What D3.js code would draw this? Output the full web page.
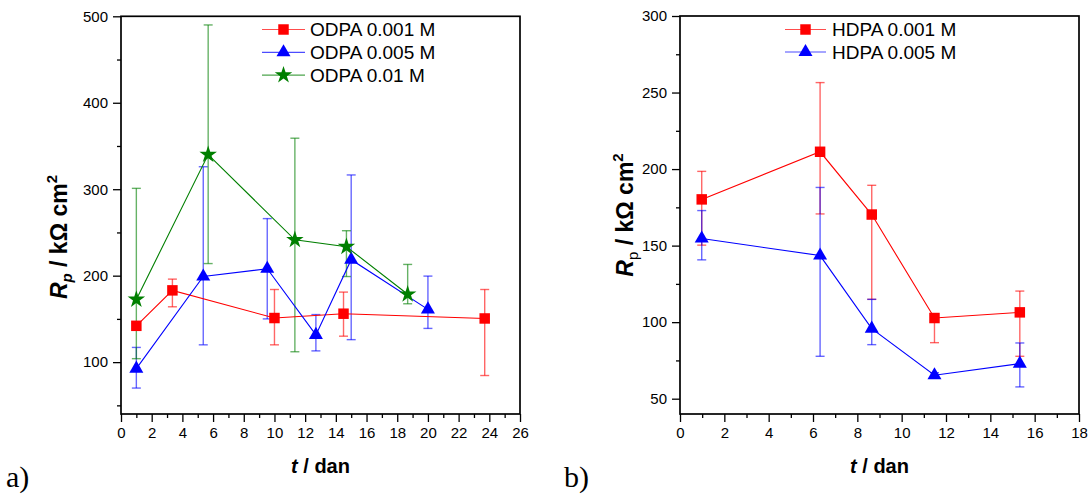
<!DOCTYPE html>
<html><head><meta charset="utf-8">
<script src="https://cdn.jsdelivr.net/npm/d3@7"></script>
<style>
body{margin:0;background:#fff;}
svg{display:block;font-family:"Liberation Sans",Arial,sans-serif;}
</style></head><body>
<svg id="c" width="1090" height="495"></svg>
<script>
// ---------- Panel a) ODPA ----------
const odpaNames = ["ODPA 0.001 M", "ODPA 0.005 M", "ODPA 0.01 M"];
const odpa001X  = [1, 3.35, 10, 14.5, 23.7];
const odpa001Y  = [142, 183, 151, 156, 150.5];
const odpa001Hi = [145, 196, 184, 181, 184];
const odpa001Lo = [139, 164, 120, 130, 84.5];

const odpa005X  = [1, 5.36, 9.53, 12.7, 15.0, 20.0];
const odpa005Y  = [92.5, 199, 208, 131.5, 218.5, 161];
const odpa005Hi = [117, 326, 266, 155, 316.5, 199.5];
const odpa005Lo = [70, 120, 150, 113, 126, 139];

const odpa01X   = [1, 5.68, 11.33, 14.69, 18.68];
const odpa01Y   = [172.5, 340, 241.5, 233.5, 178.5];
const odpa01Hi  = [301, 490, 359, 252, 213];
const odpa01Lo  = [104, 214, 112, 199, 167.5];

const aXTicks = [0, 2, 4, 6, 8, 10, 12, 14, 16, 18, 20, 22, 24, 26];
const aYTicks = [100, 200, 300, 400, 500];

// ---------- Panel b) HDPA ----------
const hdpaNames = ["HDPA 0.001 M", "HDPA 0.005 M"];
const hdpa001X  = [0.98, 6.32, 8.65, 11.48, 15.33];
const hdpa001Y  = [180.2, 211.3, 170.3, 102.7, 106.4];
const hdpa001Hi = [198.5, 256.5, 189.4, 104.5, 120.3];
const hdpa001Lo = [150.3, 170.7, 114.9, 86.6, 77.7];

const hdpa005X  = [0.98, 6.32, 8.65, 11.48, 15.33];
const hdpa005Y  = [154.6, 143.5, 95.8, 65.3, 72.9];
const hdpa005Hi = [172.9, 188, 114.9, 67, 86.4];
const hdpa005Lo = [140.7, 77.7, 85.3, 63.5, 57.7];

const bXTicks = [0, 2, 4, 6, 8, 10, 12, 14, 16, 18];
const bYTicks = [50, 100, 150, 200, 250, 300];

const RED = "#ff0000", BLUE = "#0000ff", GREEN = "#007f00";

function zip(xs, ys, hi, lo) { return xs.map((x, i) => ({x, y: ys[i], hi: hi[i], lo: lo[i]})); }

const svg = d3.select("#c");

function panel(cfg) {
  const g = svg.append("g");
  const x = d3.scaleLinear().domain(cfg.xDomain).range([cfg.left, cfg.right]);
  const y = d3.scaleLinear().domain(cfg.yDomain).range([cfg.bottom, cfg.top]);

  // minor ticks
  const xMinor = d3.range(cfg.xDomain[0] + 1, cfg.xDomain[1], 2);
  const yMinor = cfg.yMinor;
  g.append("g").attr("transform", `translate(0,${cfg.bottom})`)
    .call(d3.axisBottom(x).tickValues(xMinor).tickSize(4).tickSizeOuter(0).tickFormat(""))
    .call(s => s.select(".domain").remove())
    .selectAll("line").attr("stroke", "#000").attr("stroke-width", 1.3);
  g.append("g").attr("transform", `translate(${cfg.left},0)`)
    .call(d3.axisLeft(y).tickValues(yMinor).tickSize(4).tickSizeOuter(0).tickFormat(""))
    .call(s => s.select(".domain").remove())
    .selectAll("line").attr("stroke", "#000").attr("stroke-width", 1.3);

  // major ticks
  const xa = g.append("g").attr("transform", `translate(0,${cfg.bottom})`)
    .call(d3.axisBottom(x).tickValues(cfg.xTicks).tickSize(8).tickSizeOuter(0).tickPadding(5).tickFormat(d3.format("d")));
  xa.select(".domain").remove();
  xa.selectAll("line").attr("stroke", "#000").attr("stroke-width", 1.3);
  xa.selectAll("text").attr("font-size", 15).attr("fill", "#000")
    .attr("font-family", "Liberation Sans, Arial, sans-serif");
  const ya = g.append("g").attr("transform", `translate(${cfg.left},0)`)
    .call(d3.axisLeft(y).tickValues(cfg.yTicks).tickSize(8).tickSizeOuter(0).tickPadding(5).tickFormat(d3.format("d")));
  ya.select(".domain").remove();
  ya.selectAll("line").attr("stroke", "#000").attr("stroke-width", 1.3);
  ya.selectAll("text").attr("font-size", 15).attr("fill", "#000")
    .attr("font-family", "Liberation Sans, Arial, sans-serif");

  // frame
  g.append("rect").attr("x", cfg.left).attr("y", cfg.top)
    .attr("width", cfg.right - cfg.left).attr("height", cfg.bottom - cfg.top)
    .attr("fill", "none").attr("stroke", "#000").attr("stroke-width", 1.7);

  const line = d3.line().x(d => x(d.x)).y(d => y(d.y));

  cfg.series.forEach(s => {
    const eg = g.append("g").attr("stroke", s.color).attr("stroke-opacity", 0.6).attr("stroke-width", 1.4);
    s.data.forEach(d => {
      eg.append("line").attr("x1", x(d.x)).attr("x2", x(d.x)).attr("y1", y(d.hi)).attr("y2", y(d.lo));
      eg.append("line").attr("x1", x(d.x) - 4.5).attr("x2", x(d.x) + 4.5).attr("y1", y(d.hi)).attr("y2", y(d.hi));
      eg.append("line").attr("x1", x(d.x) - 4.5).attr("x2", x(d.x) + 4.5).attr("y1", y(d.lo)).attr("y2", y(d.lo));
    });
  });
  cfg.series.forEach(s => {
    g.append("path").datum(s.data).attr("d", line).attr("fill", "none")
      .attr("stroke", s.color).attr("stroke-width", 1.1);
  });
  cfg.series.forEach(s => {
    g.selectAll(null).data(s.data).enter().append("path")
      .attr("transform", d => `translate(${x(d.x)},${y(d.y)})`)
      .attr("d", d3.symbol().type(s.symbol).size(s.size)())
      .attr("fill", s.color);
  });

  // legend
  cfg.series.forEach((s, i) => {
    const ry = cfg.legY + i * cfg.legDy;
    g.append("line").attr("x1", cfg.legX0).attr("x2", cfg.legX1).attr("y1", ry).attr("y2", ry)
      .attr("stroke", s.color).attr("stroke-width", 1.2).attr("stroke-opacity", 0.7);
    g.append("path").attr("transform", `translate(${(cfg.legX0 + cfg.legX1) / 2},${ry})`)
      .attr("d", d3.symbol().type(s.symbol).size(s.size)()).attr("fill", s.color);
    g.append("text").attr("x", cfg.legTx).attr("y", ry).attr("dy", "0.35em")
      .attr("font-size", 19).attr("fill", "#000").text(s.name);
  });

  // x title
  const xt = g.append("text").attr("x", (cfg.left + cfg.right) / 2).attr("y", 473)
    .attr("text-anchor", "middle").attr("font-size", 20).attr("font-weight", "bold").attr("fill", "#000");
  xt.append("tspan").attr("font-style", "italic").text("t");
  xt.append("tspan").text(" / dan");

  // y title
  const yt = g.append("text").attr("transform", `translate(${cfg.yTitleX},${cfg.yTitleY}) rotate(-90)`)
    .attr("text-anchor", "middle").attr("font-size", 23).attr("font-weight", "bold").attr("fill", "#000");
  yt.append("tspan").attr("font-style", "italic").text("R");
  yt.append("tspan").attr("font-size", 15).attr("font-weight", cfg.subBold ? "bold" : "normal")
    .attr("font-style", cfg.subItalic ? "italic" : "normal").attr("dy", 5).text("p");
  yt.append("tspan").attr("dy", -5).text(" / kΩ cm");
  yt.append("tspan").attr("font-size", 15).attr("dy", -10).text("2");

  // panel letter
  svg.append("text").attr("x", cfg.letterX).attr("y", 487)
    .attr("font-family", "Liberation Serif, Times New Roman, serif").attr("font-size", 30)
    .attr("fill", "#000").text(cfg.letter);
}

panel({
  left: 121, right: 520, top: 16.3, bottom: 414,
  xDomain: [0, 26], yDomain: [40, 500],
  xTicks: aXTicks, yTicks: aYTicks, yMinor: [50, 150, 250, 350, 450],
  series: [
    {name: odpaNames[0], color: RED, symbol: d3.symbolSquare, size: 110, data: zip(odpa001X, odpa001Y, odpa001Hi, odpa001Lo)},
    {name: odpaNames[1], color: BLUE, symbol: d3.symbolTriangle, size: 85, data: zip(odpa005X, odpa005Y, odpa005Hi, odpa005Lo)},
    {name: odpaNames[2], color: GREEN, symbol: d3.symbolStar, size: 95, data: zip(odpa01X, odpa01Y, odpa01Hi, odpa01Lo)}
  ],
  legX0: 262, legX1: 305, legTx: 310, legY: 29.5, legDy: 22.8,
  yTitleX: 67, yTitleY: 237, subItalic: true, subBold: true,
  letter: "a)", letterX: 6
});

panel({
  left: 680, right: 1079, top: 16, bottom: 414,
  xDomain: [0, 18], yDomain: [40, 300],
  xTicks: bXTicks, yTicks: bYTicks, yMinor: [75, 125, 175, 225, 275],
  series: [
    {name: hdpaNames[0], color: RED, symbol: d3.symbolSquare, size: 110, data: zip(hdpa001X, hdpa001Y, hdpa001Hi, hdpa001Lo)},
    {name: hdpaNames[1], color: BLUE, symbol: d3.symbolTriangle, size: 85, data: zip(hdpa005X, hdpa005Y, hdpa005Hi, hdpa005Lo)}
  ],
  legX0: 785, legX1: 826, legTx: 832, legY: 29.5, legDy: 22.5,
  yTitleX: 633, yTitleY: 215, subItalic: false, subBold: false,
  letter: "b)", letterX: 564
});
</script>
</body></html>
